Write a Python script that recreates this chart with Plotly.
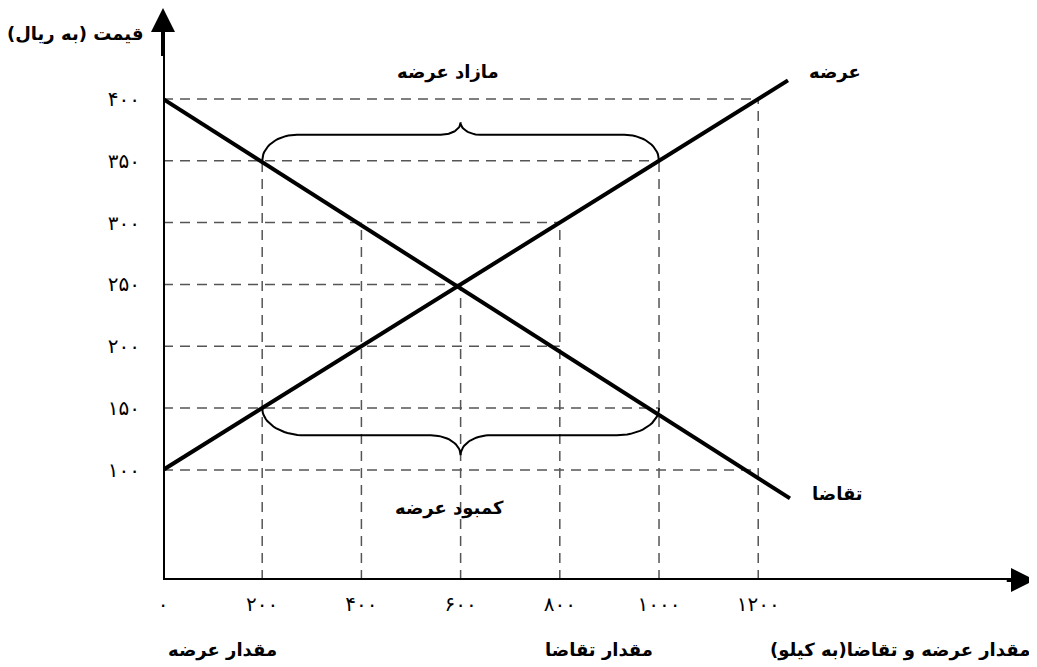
import numpy as np
import plotly.graph_objects as go

# ---- data ----
supply_q = [0, 1260]
supply_p = [100, 415]
demand_q = [0, 1264]
demand_p = [400, 77]

price_ticks = [100, 150, 200, 250, 300, 350, 400]
price_labels = ["۱۰۰", "۱۵۰", "۲۰۰", "۲۵۰", "۳۰۰", "۳۵۰", "۴۰۰"]
qty_ticks = [0, 200, 400, 600, 800, 1000, 1200]
qty_labels = ["۰", "۲۰۰", "۴۰۰", "۶۰۰", "۸۰۰", "۱۰۰۰", "۱۲۰۰"]

# guide lines: horizontal ones run from the price axis to this quantity
hline_price = [100, 150, 200, 250, 300, 350, 400]
hline_end_q = [1200, 1000, 800, 600, 800, 1000, 1200]
# vertical ones run from the quantity axis up to this price
vline_q = [200, 400, 600, 800, 1000, 1200]
vline_top_p = [350, 300, 250, 300, 350, 400]

surplus_range = [200, 1000]   # at price 350
shortage_range = [200, 1000]  # at price 150

# axis ranges (origin of the drawing is not at price 0)
x_min, x_max = 0, 1758
y_min, y_max = 11, 473.5

BLACK = "#000000"
GUIDE = "#555555"
FONT = "DejaVu Sans"


def brace(q0, q1, p0, d1, d2, r1, r2, s):
    # curly brace from q0 to q1 starting at price p0, opening direction s (+1 up, -1 down)
    qm = (q0 + q1) / 2
    t = np.linspace(0, np.pi / 2, 20)
    pf = p0 + s * d1
    qa = q0 + r1 * (1 - np.cos(t))
    pa = p0 + s * d1 * np.sin(t)
    qb = qm - r2 + r2 * np.sin(t)
    pb = pf + s * d2 * (1 - np.cos(t))
    left_q = np.concatenate([qa, qb])
    left_p = np.concatenate([pa, pb])
    right_q = 2 * qm - left_q[::-1]
    right_p = left_p[::-1]
    return np.concatenate([left_q, right_q]), np.concatenate([left_p, right_p])


fig = go.Figure()

# dashed guides
hx, hy = [], []
for p, q in zip(hline_price, hline_end_q):
    hx += [0, q, None]
    hy += [p, p, None]
vx, vy = [], []
for q, p in zip(vline_q, vline_top_p):
    vx += [q, q, None]
    vy += [y_min, p, None]
for xs, ys in [(hx, hy), (vx, vy)]:
    fig.add_trace(go.Scatter(x=xs, y=ys, mode="lines",
                             line=dict(color=GUIDE, width=1.5, dash="10px,7px"),
                             hoverinfo="skip", showlegend=False))

# braces
bq, bp = brace(surplus_range[0], surplus_range[1], 350, 21, 10, 70, 40, 1)
fig.add_trace(go.Scatter(x=bq, y=bp, mode="lines", line=dict(color=BLACK, width=2),
                         hoverinfo="skip", showlegend=False))
bq, bp = brace(shortage_range[0], shortage_range[1], 150, 22, 16, 85, 60, -1)
fig.add_trace(go.Scatter(x=bq, y=bp, mode="lines", line=dict(color=BLACK, width=2),
                         hoverinfo="skip", showlegend=False))

# supply and demand
fig.add_trace(go.Scatter(x=supply_q, y=supply_p, mode="lines", name="عرضه",
                         line=dict(color=BLACK, width=4), showlegend=False))
fig.add_trace(go.Scatter(x=demand_q, y=demand_p, mode="lines", name="تقاضا",
                         line=dict(color=BLACK, width=4), showlegend=False))

# axes with arrows
fig.add_shape(type="line", x0=0, x1=x_max - 20, y0=y_min, y1=y_min,
              line=dict(color=BLACK, width=4))
fig.add_shape(type="line", x0=0, x1=0, y0=y_min, y1=y_max - 10,
              line=dict(color=BLACK, width=4))
fig.add_annotation(x=x_max, y=y_min, ax=x_max - 60, ay=y_min, xref="x", yref="y",
                   axref="x", ayref="y", text="", showarrow=True,
                   arrowhead=2, arrowsize=1.2, arrowwidth=4, arrowcolor=BLACK)
fig.add_annotation(x=0, y=y_max, ax=0, ay=y_max - 40, xref="x", yref="y",
                   axref="x", ayref="y", text="", showarrow=True,
                   arrowhead=2, arrowsize=1.2, arrowwidth=4, arrowcolor=BLACK)

# labels inside the drawing (data coordinates)
labels = [
    ("مازاد عرضه", 575, 422),
    ("کمبود عرضه", 578, 69),
    ("عرضه", 1355, 422),
    ("تقاضا", 1360, 81),
]
for txt, qx, py in labels:
    fig.add_annotation(x=qx, y=py, xref="x", yref="y", text="<b>" + txt + "</b>",
                       showarrow=False, xanchor="center", yanchor="middle",
                       font=dict(family=FONT, size=18, color=BLACK))

# axis titles (paper coordinates, outside the plotting area)
titles = [
    ("قیمت (به ریال)", -0.101, 0.955, "center"),
    ("مقدار عرضه", 0.068, -0.122, "center"),
    ("مقدار تقاضا", 0.50, -0.122, "center"),
    ("مقدار عرضه و تقاضا(به کیلو)", 0.997, -0.122, "right"),
]
for txt, px, py, anchor in titles:
    fig.add_annotation(x=px, y=py, xref="paper", yref="paper", text="<b>" + txt + "</b>",
                       showarrow=False, xanchor=anchor, yanchor="middle",
                       font=dict(family=FONT, size=18, color=BLACK))

# the page body has an 8px margin, so the figure is 8px smaller than the window
fig.update_layout(
    width=1029, height=659,
    margin=dict(l=155, r=2, t=0, b=87),
    paper_bgcolor="white", plot_bgcolor="white",
    font=dict(family=FONT, color=BLACK),
    xaxis=dict(range=[x_min, x_max], showgrid=False, zeroline=False, showline=False,
               tickvals=qty_ticks, ticktext=qty_labels, ticks="",
               ticklabelstandoff=10, tickfont=dict(size=20, family=FONT),
               automargin=False, fixedrange=True),
    yaxis=dict(range=[y_min, y_max], showgrid=False, zeroline=False, showline=False,
               tickvals=price_ticks, ticktext=price_labels, ticks="",
               ticklabelstandoff=22, tickfont=dict(size=20, family=FONT),
               automargin=False, fixedrange=True),
)

fig.write_html("out.html")
